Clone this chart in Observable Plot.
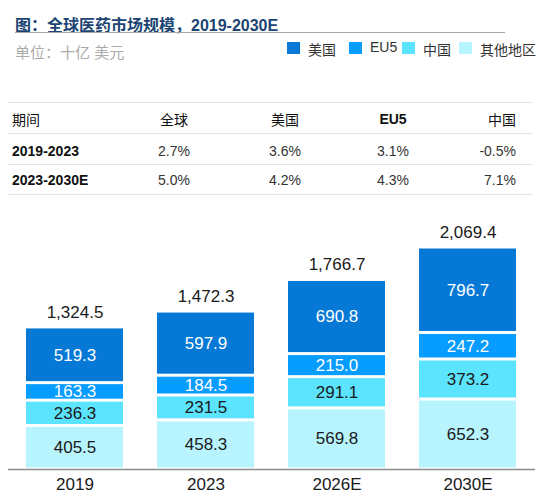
<!DOCTYPE html>
<html>
<head>
<meta charset="utf-8">
<script src="https://cdn.jsdelivr.net/npm/d3@7"></script>
<script src="https://cdn.jsdelivr.net/npm/@observablehq/plot@0.6"></script>
<style>
  body { margin: 0; background: #fff; font-family: "Liberation Sans", Arial, "Noto Sans CJK SC", sans-serif; }
  #page { position: relative; width: 546px; height: 496px; overflow: hidden; }
  .abs { position: absolute; white-space: nowrap; }
  #title { left: 15px; top: 12px; font-size: 16px; font-weight: bold; color: #1b4473; }
  #rule { left: 15px; top: 32px; width: 490px; height: 0; border-top: 1.5px solid #a6a6a6; }
  #unit { left: 15px; top: 41px; font-size: 15px; color: #ababab; }
  .sw { width: 13px; height: 12px; top: 42px; }
  .lg { top: 39px; font-size: 14px; color: #333; }
  .hl { left: 8px; width: 525px; height: 0; border-top: 1.5px solid #e4e4e4; }
  .cell { font-size: 14px; color: #333; transform: translateY(-50%); }
  #chart { position: absolute; left: 0; top: 206px; }
</style>
</head>
<body>
<div id="page">
  <div id="chart"></div>
</div>
<script>
// 数据
const years = ["2019", "2023", "2026E", "2030E"]
const regions = ["美国", "EU5", "中国", "其他地区"]
const colors = ["#0679d6", "#079cff", "#5ce3fd", "#b8f4fe"]
const us = [519.3, 597.9, 690.8, 796.7]
const eu5 = [163.3, 184.5, 215.0, 247.2]
const china = [236.3, 231.5, 291.1, 373.2]
const other = [405.5, 458.3, 569.8, 652.3]
const totals = [1324.5, 1472.3, 1766.7, 2069.4]

const periods = ["2019-2023", "2023-2030E"]
const cagrCols = ["全球", "美国", "EU5", "中国"]
const cagr1 = ["2.7%", "3.6%", "3.1%", "-0.5%"]
const cagr2 = ["5.0%", "4.2%", "4.3%", "7.1%"]

const page = d3.select('#page')

// 标题 + 图例
page.append('div').attr('id', 'title').attr('class', 'abs').text('图：全球医药市场规模，2019-2030E')
page.append('div').attr('id', 'rule').attr('class', 'abs')
page.append('div').attr('id', 'unit').attr('class', 'abs').text('单位：十亿 美元')

const legendX = [287, 349, 402, 459]
regions.forEach((r, i) => {
  page.append('div').attr('class', 'abs sw').style('left', legendX[i] + 'px').style('background', colors[i])
  page.append('div').attr('class', 'abs lg').style('left', (legendX[i] + 21) + 'px').text(r)
})

// 增长率表格
;[102, 133, 164, 194].forEach(y => page.append('div').attr('class', 'abs hl').style('top', y + 'px'))
const rowY = [119, 151, 180]
const colX = [174, 285, 393]
const rows = [["期间", ...cagrCols], [periods[0], ...cagr1], [periods[1], ...cagr2]]
rows.forEach((row, ri) => {
  row.forEach((t, ci) => {
    const c = page.append('div').attr('class', 'abs cell').style('top', rowY[ri] + 'px').text(t)
    if (ci == 0) {
      c.style('left', '12px')
      if (ri > 0) c.style('font-weight', 'bold').style('color', '#111')
      else c.style('color', '#111')
    } else if (ci == 4) {
      c.style('right', (546 - 516) + 'px')
    } else {
      c.style('left', colX[ci - 1] + 'px').style('transform', 'translate(-50%,-50%)')
    }
    if (ri == 0) {
      c.style('color', '#111')
      if (t == 'EU5') c.style('font-weight', 'bold')
    }
  })
})

// 堆叠柱状图
const series = [other, china, eu5, us]
const seriesNames = ["其他地区", "中国", "EU5", "美国"]
let data = []
years.forEach((y, i) => {
  series.forEach((s, k) => data.push({ year: y, region: seriesNames[k], value: s[i] }))
})
const light = d => d.region == '美国' || d.region == 'EU5'

const chart = Plot.plot({
  width: 546,
  height: 290,
  marginTop: 41,
  marginBottom: 27,
  marginLeft: 8,
  marginRight: 11,
  style: { fontFamily: '"Liberation Sans", Arial, "Noto Sans CJK SC", sans-serif', background: 'white' },
  x: { domain: years, paddingInner: 0.256, paddingOuter: 0.129, label: null },
  y: { domain: [0, 2069.4], axis: null },
  color: { domain: regions, range: colors },
  marks: [
    Plot.barY(data, { x: 'year', y: 'value', fill: 'region', insetTop: 1.5, insetBottom: 1.5 }),
    Plot.text(data, Plot.stackY({ x: 'year', y: 'value', text: d => light(d) ? d.value.toFixed(1) : null, fill: 'white', fontSize: 17 })),
    Plot.text(data, Plot.stackY({ x: 'year', y: 'value', text: d => light(d) ? null : d.value.toFixed(1), fill: '#1a1a1a', fontSize: 17 })),
    Plot.text(totals, { x: years, y: totals, text: d3.format(',.1f'), dy: -15, fill: '#1a1a1a', fontSize: 17 }),
    Plot.ruleY([0], { stroke: '#8c8c8c', strokeWidth: 1.5 }),
    Plot.axisX({ tickSize: 0, tickPadding: 8, fontSize: 17, fill: '#1a1a1a', label: null }),
  ],
})
d3.select('#chart').append(() => chart)
</script>
</body>
</html>
